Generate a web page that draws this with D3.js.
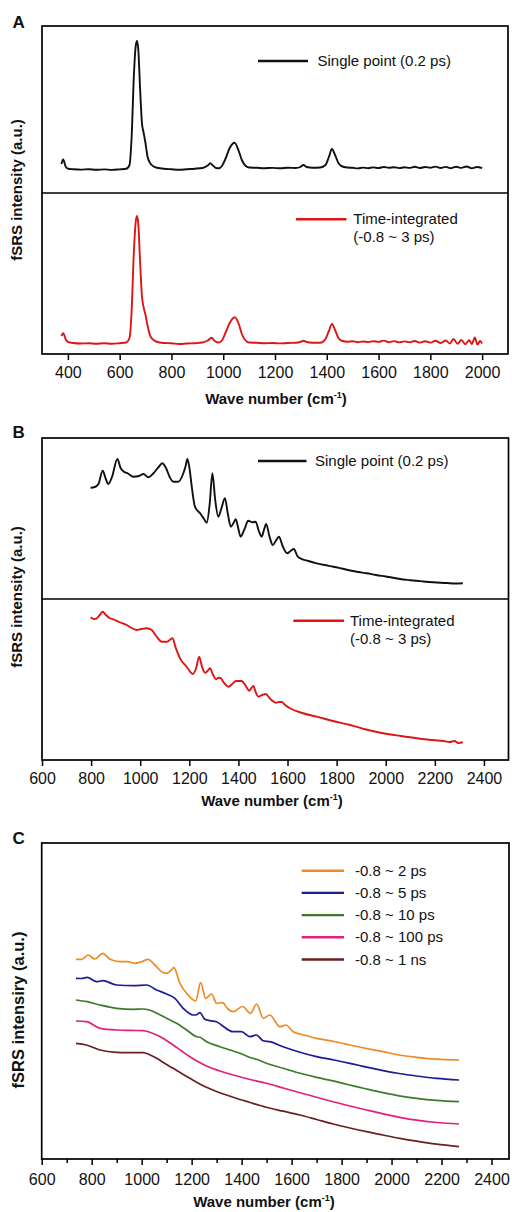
<!DOCTYPE html>
<html>
<head>
<meta charset="utf-8">
<script src="https://cdn.jsdelivr.net/npm/d3@7"></script>
<style>
body { margin: 0; background: #fff; }
svg { display: block; font-family: "Liberation Sans", Arial, sans-serif; }
.frame { fill: none; stroke: #000; stroke-width: 1.7px; }
.spec { fill: none; stroke-width: 1.9px; stroke-linejoin: round; }
.axis path { display: none; }
.axis line { stroke: #000; stroke-width: 1.5px; }
.axis text { font-size: 16px; fill: #111; }
.leg { font-size: 15px; fill: #111; }
.title { font-size: 15px; font-weight: bold; fill: #111; }
.plabel { font-size: 17px; font-weight: bold; fill: #111; }
</style>
</head>
<body>
<script>

/// ---- Panel A: wavenumber / intensity pairs (a.u.) ----
var aSingle = [
  [375,29],[382,33.5],[392,26],[402,24.2],[420,23.8],[450,23.4],[480,23.8],[510,23.2],[540,23.6],[570,23.1],
  [600,23.6],[625,24.2],[638,28],[646,55],[655,118],[662,147],[667,152],[672,143],[679,104],[686,70],[692,61],
  [699,51],[708,36],[720,29],[740,25.5],[770,24.3],[800,23.7],[830,23.2],[860,23.8],[890,24.3],[920,25],
  [940,27.5],[950,29.7],[960,27.5],[972,25],[982,24.7],[995,27],[1010,35],[1025,45],[1044,50.3],[1060,42],
  [1072,33],[1085,27.5],[1100,25.5],[1130,25.2],[1160,24.8],[1190,25.1],[1220,24.7],[1250,25.2],[1280,25],
  [1298,26],[1310,28],[1322,26],[1345,25.3],[1375,25.5],[1395,28],[1408,36],[1420,44],[1432,38],[1445,30],
  [1460,26.5],[1480,25.5],[1500,25.2],[1520,24.6],[1540,25.4],[1560,24.8],[1580,25.6],[1600,25],[1620,26],
  [1640,25.2],[1660,25.8],[1680,24.9],[1700,25.7],[1720,25.1],[1740,26.2],[1760,25],[1780,26],[1800,25.2],
  [1820,26.4],[1840,25],[1860,26.1],[1880,24.8],[1900,26.3],[1920,25.1],[1940,26.5],[1960,24.6],[1980,26],[2000,24.8]
];
var aIntegrated = [
  [375,18],[382,20.7],[392,14.5],[402,11.8],[420,11],[450,10.5],[480,10.8],[510,10.3],[540,10.7],[570,10.2],
  [600,10.8],[625,11.5],[638,16],[646,42],[655,103],[662,132],[667,138],[672,130],[679,92],[686,58],[692,47.3],
  [699,40],[708,28],[720,17],[740,12.5],[770,11],[800,10.7],[830,10],[860,10.5],[890,10.8],[920,11.5],
  [940,13.5],[955,16.3],[967,13],[982,11.5],[995,13.5],[1010,22],[1025,31],[1045,36.7],[1060,30],
  [1072,20],[1085,14],[1100,11.5],[1130,11.2],[1160,10.8],[1190,11],[1220,10.6],[1250,11],[1280,11.2],
  [1298,12],[1310,13.3],[1322,12],[1345,11.3],[1375,11.2],[1395,15],[1408,23],[1420,30],[1432,24],[1445,16],
  [1460,13],[1480,12.3],[1500,12.8],[1520,11.8],[1540,12.5],[1560,11.9],[1580,12.8],[1600,12.1],[1620,13.4],
  [1640,11.8],[1660,12.9],[1680,11.6],[1700,12.6],[1720,11.7],[1740,13],[1760,11.4],[1780,12.8],[1800,11.3],
  [1820,13.2],[1840,11],[1860,13.5],[1875,10.5],[1890,15],[1905,10.2],[1920,14],[1935,9.8],[1950,13.8],
  [1960,10],[1972,16.5],[1982,9.5],[1992,13],[2000,10.5]
];

/// ---- Panel B ----
var bSingle = [
  [798,111.3],[815,112],[830,115],[847,128.3],[860,120],[870,115],[885,122],[907,140],[920,131],[934,127.3],
  [950,125.5],[972,122.3],[995,123],[1013,125],[1033,121.7],[1055,126],[1075,132],[1090,135.7],[1105,131],
  [1120,122],[1135,117.3],[1155,117.3],[1173,124],[1185,133],[1192,140],[1200,132],[1210,112.3],[1223,92.3],
  [1244,85.7],[1260,80],[1271,76.3],[1283,95],[1294,125.7],[1305,100],[1318,82.3],[1330,90],[1345,100.7],
  [1357,85],[1369,72.3],[1380,76],[1389,79.7],[1400,70],[1409,62.3],[1425,70],[1440,78.3],[1457,76.7],
  [1470,77.3],[1483,68],[1495,62.3],[1505,70],[1513,75],[1527,62],[1540,54],[1552,58],[1565,62.3],[1580,53],
  [1599,45.7],[1612,48],[1626,50],[1640,43],[1651,40.7],[1685,38],[1719,35.7],[1750,34],[1787,32.3],
  [1820,30.5],[1855,28.5],[1890,27],[1923,25.7],[1960,24],[2000,22.5],[2030,21.3],[2058,20],[2100,18.8],
  [2150,17.6],[2194,16.7],[2250,16],[2280,15.5],[2314,15.7]
];
var bIntegrated = [
  [798,142.7],[812,141],[823,141.7],[835,145],[847,148.3],[860,145],[875,142],[890,140.7],[915,138],[945,135],
  [965,132],[986,130],[1005,131],[1026,131.7],[1047,130],[1065,124],[1088,118.3],[1108,118.3],[1120,120],
  [1131,121.7],[1145,112],[1162,101.7],[1190,93],[1214,86],[1228,92],[1240,103.3],[1252,93],[1264,87.3],
  [1274,89],[1284,91.7],[1297,85],[1309,80.7],[1317,82],[1325,82.3],[1342,77],[1359,73.3],[1375,76],
  [1390,79],[1413,79],[1430,74],[1444,69.3],[1453,72],[1461,74],[1470,68],[1481,63.3],[1497,65],[1511,66],
  [1530,61],[1553,57.3],[1565,58],[1576,58],[1590,55],[1610,51.7],[1660,47],[1719,43.3],[1785,39],
  [1855,35],[1920,30.5],[1990,26.7],[2060,24],[2126,21.7],[2200,19.7],[2230,19.2],[2260,18],[2280,19],
  [2295,17],[2314,17.7]
];

/// ---- Panel C ----
var cLabels = ["-0.8 ~ 2 ps", "-0.8 ~ 5 ps", "-0.8 ~ 10 ps", "-0.8 ~ 100 ps", "-0.8 ~ 1 ns"];
var cColors = ["#ef8a25", "#1c1c93", "#3d7a2c", "#e3207c", "#6c1f22"];
var c2ps = [
  [737,199.7],[760,199.7],[786,204],[813,200],[844,205.7],[873,199.7],[913,197.3],[946,197.3],[973,195.7],
  [1000,197.3],[1026,199.7],[1053,194],[1080,187.3],[1100,185.7],[1115,188],[1129,191.3],[1153,175.7],
  [1186,164],[1216,158],[1236,176.3],[1256,160.7],[1280,165],[1300,155.7],[1324,156.3],[1345,150],[1366,147.3],
  [1404,152.5],[1436,145.7],[1460,155],[1487,140.7],[1513,144],[1553,132.3],[1577,134],[1606,127.3],[1650,124],
  [1700,120.7],[1770,117.5],[1833,114],[1900,110.5],[1966,107.3],[2030,104],[2100,101.7],[2180,99.8],[2270,99]
];
var c5ps = [
  [737,180.7],[760,180.5],[782,181.7],[820,177.3],[844,178.3],[900,174],[966,173.3],[1020,174],[1060,169],
  [1100,165],[1133,160.7],[1166,150.7],[1206,144],[1217,144],[1233,146.3],[1253,139.7],[1273,138.3],
  [1299,137.3],[1319,134],[1366,127.3],[1399,127.3],[1433,122.3],[1459,124],[1486,118.3],[1513,117.3],
  [1566,112.3],[1630,107],[1700,102.3],[1770,99],[1833,95.7],[1900,91.8],[1966,88.3],[2030,85.5],[2100,83],
  [2180,80.6],[2270,79]
];
var c10ps = [
  [737,159],[782,157.3],[833,154],[900,150.7],[966,149.7],[1006,150],[1030,149],[1060,145.7],[1100,140.7],
  [1140,135.7],[1180,129],[1220,122.3],[1233,121.7],[1260,117.3],[1313,112.3],[1393,105.7],[1440,101],
  [1459,99.7],[1499,95.7],[1566,90.7],[1630,86],[1700,81.7],[1770,77.8],[1833,74],[1900,70],[1966,66.3],
  [2030,63.2],[2100,60.7],[2180,58.6],[2270,57.3]
];
var c100ps = [
  [737,138],[779,137.3],[833,130.7],[900,129],[960,128.6],[1006,128.3],[1030,127],[1060,124],[1090,120],
  [1126,114],[1160,108],[1193,102.3],[1225,97.5],[1259,93],[1310,88.3],[1366,84],[1430,79.8],[1499,75.7],
  [1566,71],[1633,66.3],[1700,61.8],[1766,57.3],[1833,53],[1900,49],[1966,45.2],[2033,41.7],[2100,38.8],
  [2180,36.5],[2270,35]
];
var c1ns = [
  [737,115.7],[779,114],[833,109],[900,106.7],[960,106.4],[1006,106.3],[1030,104.5],[1060,100.7],[1090,96],
  [1126,90.7],[1160,85.5],[1193,80.7],[1225,76],[1259,71.7],[1310,66.5],[1366,61.7],[1430,56.8],[1499,51.7],
  [1566,47.8],[1633,44],[1700,39.5],[1766,35],[1833,31],[1900,27.3],[1966,24],[2033,20.7],[2100,17.8],
  [2180,14.8],[2270,12.3]
];
var cSeries = [c2ps, c5ps, c10ps, c100ps, c1ns];

var svg = d3.select("body").append("svg").attr("width", 512).attr("height", 1212);

var line = function(x, y) {
  return d3.line()
    .x(function(d) { return x(d[0]); })
    .y(function(d) { return y(d[1]); })
    .curve(d3.curveMonotoneX);
};

function frame(x0, x1, y0, y1) {
  svg.append("rect").attr("class", "frame")
    .attr("x", x0).attr("y", y0).attr("width", x1 - x0).attr("height", y1 - y0);
}

function xAxis(x, yPos, ticks, minor, pad) {
  svg.append("g").attr("class", "axis")
    .attr("transform", "translate(0," + yPos + ")")
    .call(d3.axisBottom(x).tickValues(ticks).tickSize(6).tickPadding(pad).tickFormat(d3.format("d")));
  if (minor) {
    svg.append("g").attr("class", "axis")
      .attr("transform", "translate(0," + yPos + ")")
      .call(d3.axisBottom(x).tickValues(minor).tickSize(4).tickFormat(""));
  }
}

function xTitle(cx, baseY) {
  var t = svg.append("text").attr("class", "title").attr("x", cx).attr("y", baseY)
    .attr("text-anchor", "middle");
  t.append("tspan").text("Wave number (cm");
  t.append("tspan").attr("font-size", "9px").attr("dy", -6).text("-1");
  t.append("tspan").attr("dy", 6).text(")");
}

function yTitle(text, x, cy, size) {
  svg.append("text").attr("class", "title")
    .attr("transform", "translate(" + x + "," + cy + ") rotate(-90)")
    .attr("text-anchor", "middle").style("font-size", size + "px").text(text);
}

function legendLine(x0, x1, y, color, lines, tx) {
  svg.append("line").attr("x1", x0).attr("x2", x1).attr("y1", y).attr("y2", y)
    .attr("stroke", color).attr("stroke-width", 2.4);
  lines.forEach(function(s, i) {
    svg.append("text").attr("class", "leg").attr("x", tx).attr("y", y + 5 + i * 18).text(s);
  });
}

function panelLabel(s, y) {
  svg.append("text").attr("class", "plabel").attr("x", 12.5).attr("y", y).text(s);
}

/// Panel A
var xA = d3.scaleLinear().domain([300, 2100]).range([42, 508]);
var yA1 = d3.scaleLinear().domain([0, 167]).range([193, 26]);
var yA2 = d3.scaleLinear().domain([0, 161]).range([354, 193]);
frame(42, 508, 26, 354);
svg.append("line").attr("x1", 42).attr("x2", 508).attr("y1", 193).attr("y2", 193)
  .attr("stroke", "#000").attr("stroke-width", 1.7);
svg.append("path").datum(aSingle).attr("class", "spec").attr("stroke", "#111").attr("d", line(xA, yA1));
svg.append("path").datum(aIntegrated).attr("class", "spec").attr("stroke", "#dd1515").attr("d", line(xA, yA2));
xAxis(xA, 354, d3.range(400, 2001, 200), null, 7);
xTitle(276, 403.5);
yTitle("fSRS intensity (a.u.)", 22, 190, 15);
legendLine(258, 308, 61, "#111", ["Single point (0.2 ps)"], 317.5);
legendLine(296, 346.5, 219.3, "#dd1515", ["Time-integrated", "(-0.8 ~ 3 ps)"], 353.3);
panelLabel("A", 27.5);

/// Panel B
var xB = d3.scaleLinear().domain([600, 2500]).range([42, 508.5]);
var yB1 = d3.scaleLinear().domain([0, 161]).range([599, 438]);
var yB2 = d3.scaleLinear().domain([0, 161]).range([760, 599]);
frame(42, 508.5, 438, 760);
svg.append("line").attr("x1", 42).attr("x2", 508.5).attr("y1", 599).attr("y2", 599)
  .attr("stroke", "#000").attr("stroke-width", 1.7);
svg.append("path").datum(bSingle).attr("class", "spec").attr("stroke", "#111").attr("d", line(xB, yB1));
svg.append("path").datum(bIntegrated).attr("class", "spec").attr("stroke", "#dd1515").attr("d", line(xB, yB2));
xAxis(xB, 760, d3.range(600, 2401, 200), null, 7);
xTitle(272, 805.5);
yTitle("fSRS intensity (a.u.)", 22, 597, 15);
legendLine(258, 306.5, 461, "#111", ["Single point (0.2 ps)"], 315);
legendLine(293.3, 344, 620.7, "#dd1515", ["Time-integrated", "(-0.8 ~ 3 ps)"], 350);
panelLabel("B", 437.5);

/// Panel C
var xC = d3.scaleLinear().domain([600, 2470]).range([41.7, 509]);
var yC = d3.scaleLinear().domain([0, 316]).range([1159, 843]);
frame(41.7, 509, 843, 1159);
cSeries.forEach(function(s, i) {
  svg.append("path").datum(s).attr("class", "spec").attr("stroke", cColors[i])
    .style("stroke-width", "1.7px").attr("d", line(xC, yC));
});
xAxis(xC, 1159, d3.range(600, 2401, 200), d3.range(700, 2401, 200), 9);
xTitle(264, 1207);
yTitle("fSRS intensiry (a.u.)", 24, 1010, 16.5);
cLabels.forEach(function(s, i) {
  legendLine(301.7, 344, 870.7 + i * 22.2, cColors[i], [s], 355);
});
panelLabel("C", 843.5);

</script>
</body>
</html>
